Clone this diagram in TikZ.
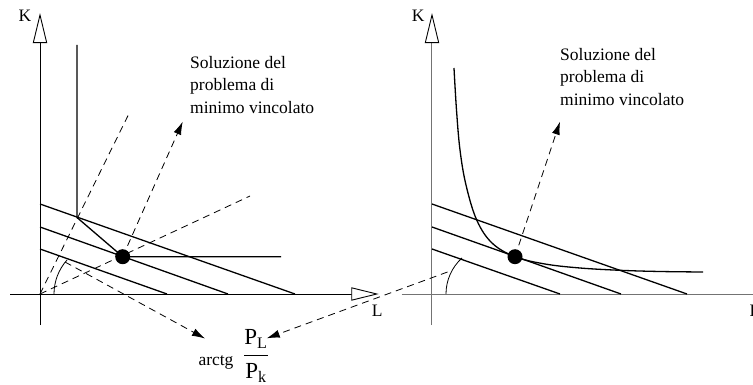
\documentclass[tikz,border=0pt]{standalone}
\usepackage{fontspec}
\setmainfont{Liberation Serif}
\usepackage{amsmath}
\usetikzlibrary{arrows.meta}
\begin{document}
\begin{tikzpicture}[x=1pt,y=-1pt,
  txt/.style={font=\fontsize{17.5}{22.5}\selectfont, inner sep=0pt},
  axisL/.style={line width=0.9pt},
  axisR/.style={line width=0.9pt, draw=black!55},
  budget/.style={line width=1.3pt},
  iso/.style={line width=1.3pt},
  thinarc/.style={line width=0.8pt},
  dsh/.style={line width=0.8pt, dash pattern=on 7pt off 5pt},
  darrow/.style={dsh, -{Latex[length=13pt,width=8pt]}},
  dot/.style={circle, fill=black, inner sep=0pt, minimum size=15pt},
  headtri/.style={line width=0.9pt, fill=white}
]
\clip (0,0) rectangle (753,385);
% ---------- left panel ----------
\coordinate (O1) at (40,294);
\coordinate (YB1) at (40,325);
\coordinate (YT1) at (40,42.7);
\coordinate (XL1) at (10,294);
\coordinate (XR1) at (351.7,294);
\draw[axisL] (YB1) -- (YT1);
\draw[axisL] (XL1) -- (XR1);
\draw[headtri] (40,15) -- (33.3,42.7) -- (46.7,42.7) -- cycle;
\draw[headtri] (376.7,294) -- (351.7,287.8) -- (351.7,300.2) -- cycle;
\node[txt, anchor=base west] (K1) at (18.3,21.7) {K};
\node[txt, anchor=base west] (L1) at (371.7,316.5) {L};
\draw[budget] (40,204) -- (295,294);
\draw[budget] (40,227) -- (228,294);
\draw[budget] (40,249) -- (167,294);
\draw[iso] (77,45) -- (77,217.5) -- (122.7,256.7) -- (281,256.7);
\coordinate (R1a) at (128.3,115);
\coordinate (R1b) at (250,196);
\draw[dsh] (O1) -- (R1a);
\draw[dsh] (O1) -- (R1b);
\draw[thinarc] (54,294) .. controls (54,281.5) and (58.7,269.3) .. (67,260);
\coordinate (ArcL) at (65,262);
\coordinate (TipS1) at (182.7,121.7);
\coordinate (TipA1) at (205,338.5);
\node[dot] (D1) at (122.7,256.7) {};
\draw[darrow] (D1.center) -- (TipS1);
\draw[darrow] (ArcL) -- (TipA1);
\node[txt, anchor=north west, align=left] (S1) at (190,56) {Soluzione del\\problema di\\minimo vincolato};
% ---------- right panel ----------
\coordinate (YB2) at (431.7,325);
\coordinate (YT2) at (431.7,42.7);
\coordinate (XL2) at (401.7,294);
\coordinate (XR2) at (760,294);
\draw[axisR] (YB2) -- (YT2);
\draw[axisR] (XL2) -- (XR2);
\draw[headtri] (432,15) -- (425.3,42.7) -- (438.7,42.7) -- cycle;
\node[txt, anchor=base west] (K2) at (411.7,21.7) {K};
\node[txt, anchor=base west] (L2) at (749.3,316) {L};
\draw[budget] (432,204) -- (687,294);
\draw[budget] (432,227) -- (621,294);
\draw[budget] (432,249) -- (560,294);
\draw[iso] plot[smooth, tension=0.6] coordinates {(454,68) (456.5,110) (460,150) (466,185) (476.7,220) (492,243) (515,256.7) (545,264) (580,268) (620,270.3) (660,271.5) (703,272)};
\draw[thinarc] (446,294) .. controls (446,280.3) and (451.8,267.2) .. (462,258);
\coordinate (ArcR) at (447.5,272);
\coordinate (TipS2) at (560,121.7);
\coordinate (TipA2) at (266.7,338.3);
\node[dot] (D2) at (515,256.7) {};
\draw[darrow] (D2.center) -- (TipS2);
\draw[darrow] (ArcR) -- (TipA2);
\node[txt, anchor=north west, align=left] (S2) at (560,47.7) {Soluzione del\\problema di\\minimo vincolato};
% ---------- arctg label ----------
\node[txt, anchor=base west] (A) at (198.3,365.5) {arctg};
\node[font=\fontsize{23}{27}\selectfont, inner sep=0pt, anchor=base] (F) at (256,361.8) {$\dfrac{\text{P}_{\text{L}}}{\text{P}_{\text{k}}}$};
\end{tikzpicture}
\end{document}
